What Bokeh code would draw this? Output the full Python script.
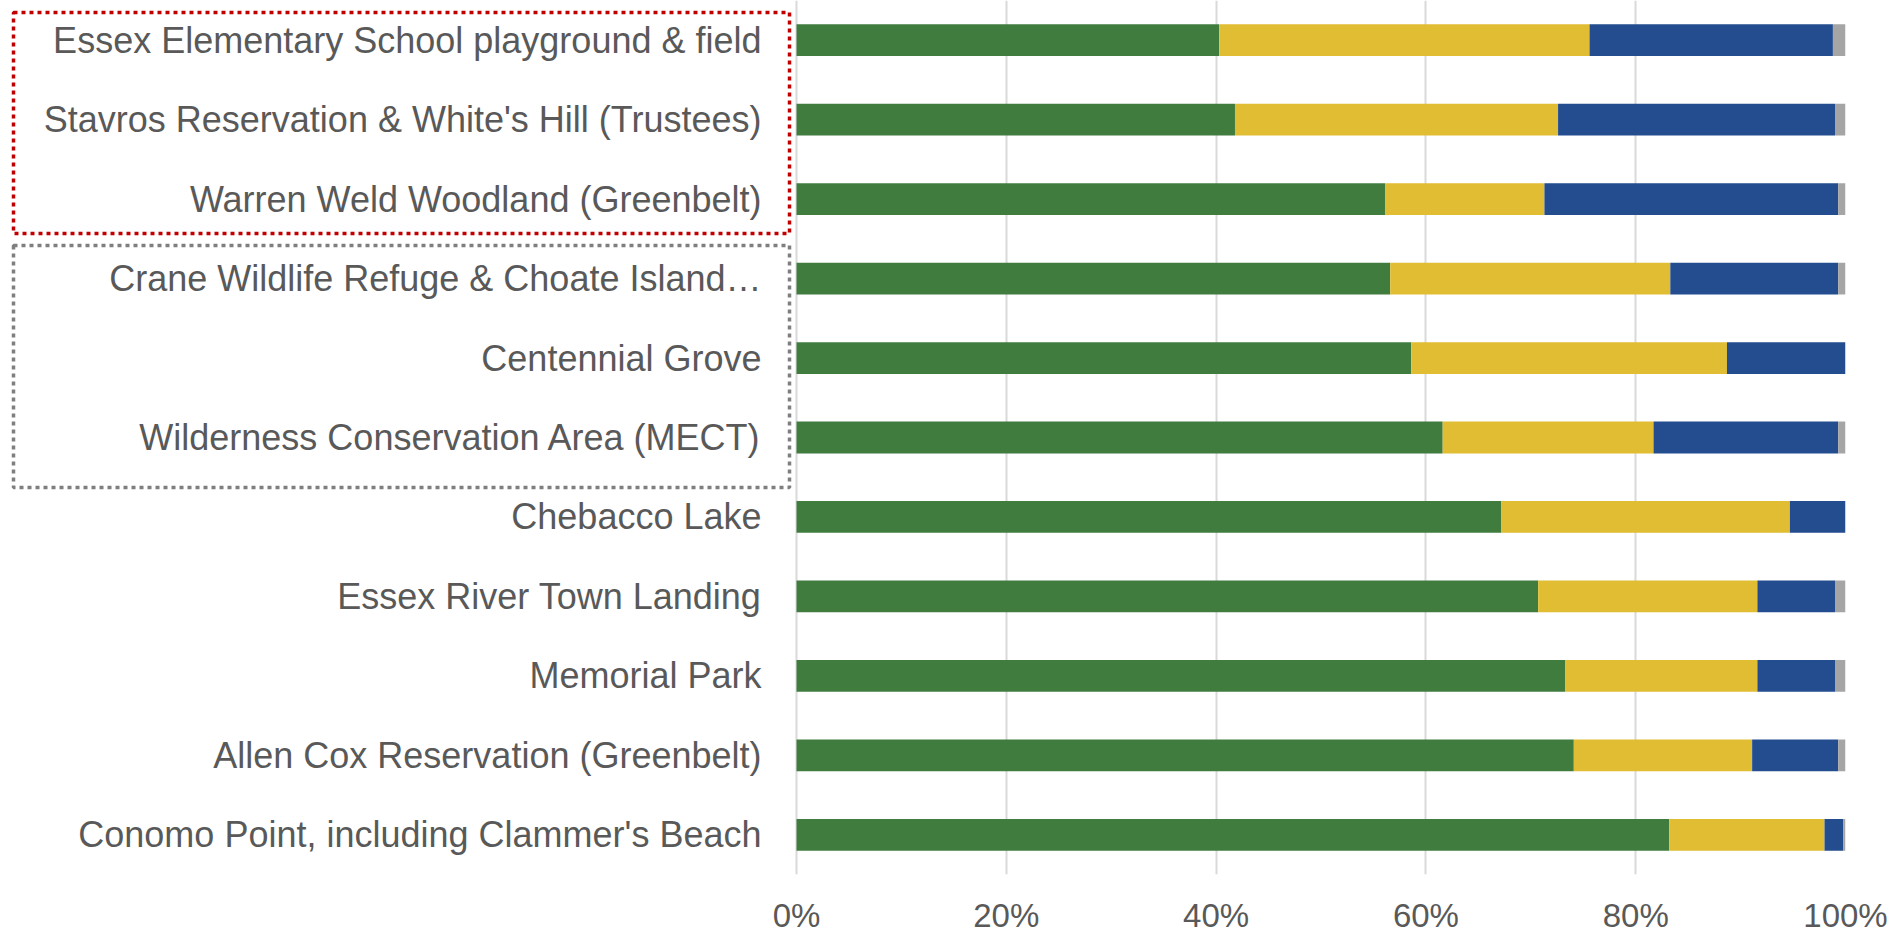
from bokeh.plotting import figure
from bokeh.models import (FactorRange, Range1d, FixedTicker, PrintfTickFormatter,
                          BoxAnnotation, ColumnDataSource, Node)
from bokeh.core.properties import value
from bokeh.embed import file_html
from bokeh.resources import INLINE

# Categories, top to bottom as shown
places = [
    "Essex Elementary School playground & field",
    "Stavros Reservation & White's Hill (Trustees)",
    "Warren Weld Woodland (Greenbelt)",
    "Crane Wildlife Refuge & Choate Island\u2026",
    "Centennial Grove",
    "Wilderness Conservation Area (MECT)",
    "Chebacco Lake",
    "Essex River Town Landing",
    "Memorial Park",
    "Allen Cox Reservation (Greenbelt)",
    "Conomo Point, including Clammer's Beach",
]

# Percent shares
green  = [40.3, 41.8, 56.1, 56.6, 58.6, 61.6, 67.2, 70.7, 73.3, 74.1, 83.2]
yellow = [35.3, 30.8, 15.2, 26.7, 30.1, 20.1, 27.5, 20.9, 18.3, 17.0, 14.8]
blue   = [23.2, 26.4, 28.0, 16.0, 11.3, 17.6,  5.3,  7.4,  7.4,  8.2,  1.8]
gray   = [ 1.2,  1.0,  0.7,  0.7,  0.0,  0.7,  0.0,  1.0,  1.0,  0.7,  0.2]

ticks = [0, 20, 40, 60, 80, 100]

series = ["green", "yellow", "blue", "gray"]
colors = ["#417C3F", "#E1BD33", "#234D8F", "#A5A5A5"]

source = ColumnDataSource(dict(place=places, green=green, yellow=yellow,
                               blue=blue, gray=gray))

# layout: the plotting frame spans the whole width so that the category
# labels and the dotted highlight boxes live inside it (no clipping)
W, H = 1897, 937
LABEL_AREA = 796      # px from the left edge to the 0% line
RIGHT_PAD = 52
FRAME_W = W - RIGHT_PAD
x_start = -100.0 * LABEL_AREA / (FRAME_W - LABEL_AREA)

p = figure(width=W, height=H,
           y_range=FactorRange(factors=places[::-1]),
           x_range=Range1d(x_start, 100),
           output_backend="svg", toolbar_location=None,
           min_border_left=0, min_border_right=RIGHT_PAD,
           min_border_top=0, min_border_bottom=63)

p.hbar_stack(series, y="place", height=0.4, color=colors, source=source,
             line_color=None)

# category labels, right-aligned 35px left of the 0% line
p.text(x=0, y="place", text="place", source=source,
       x_offset=-35, text_align="right", text_baseline="middle",
       text_font=value("Liberation Sans"), text_font_size="36px",
       text_color="#595959")

p.outline_line_color = None
p.background_fill_color = "white"
p.border_fill_color = "white"

# x axis
p.xaxis.ticker = FixedTicker(ticks=ticks)
p.xaxis.formatter = PrintfTickFormatter(format="%d%%")
p.xaxis.axis_line_color = None
p.xaxis.major_tick_line_color = None
p.xaxis.minor_tick_line_color = None
p.xaxis.major_tick_out = 0
p.xaxis.major_tick_in = 0
p.xaxis.minor_tick_out = 0
p.xaxis.minor_tick_in = 0
p.xaxis.major_label_text_font = "Liberation Sans"
p.xaxis.major_label_text_font_size = "33px"
p.xaxis.major_label_text_color = "#595959"
p.xaxis.major_label_standoff = 22

# y axis labels are drawn as text above
p.yaxis.visible = False

# grid (the 0% line doubles as the category axis line)
p.xgrid.ticker = FixedTicker(ticks=ticks)
p.xgrid.grid_line_color = "#D9D9D9"
p.xgrid.grid_line_width = 2
p.ygrid.grid_line_color = None


def cx(off):
    return Node(target="canvas", symbol="left", offset=off)


def cy(off):
    return Node(target="canvas", symbol="top", offset=off)


# dotted highlight boxes around label groups
red_box = BoxAnnotation(left=cx(13), right=cx(789), top=cy(12), bottom=cy(233),
                        fill_alpha=0, fill_color=None, line_alpha=1.0,
                        line_color="#C00000", line_width=3.5, line_dash="4 4")
gray_box = BoxAnnotation(left=cx(13), right=cx(789), top=cy(245), bottom=cy(487),
                         fill_alpha=0, fill_color=None, line_alpha=1.0,
                         line_color="#7F7F7F", line_width=3.5, line_dash="4 4")
p.add_layout(red_box)
p.add_layout(gray_box)

open("out.html", "w").write(file_html(p, INLINE))
